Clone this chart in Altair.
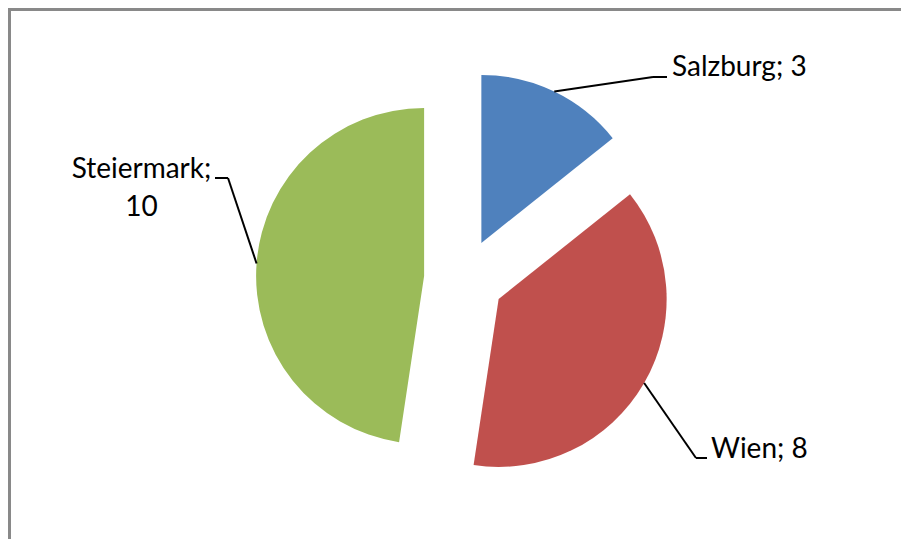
import altair as alt
import pandas as pd

# ---- data ----
regions = ["Salzburg", "Wien", "Steiermark"]
values = [3, 8, 10]
label_texts = ["Salzburg; 3", "Wien; 8", "Steiermark;\n10"]
colors = ["#4F81BD", "#C0504D", "#9BBB59"]

# ---- layout (pixels inside the plot area) ----
W, H = 893, 531
CX, CY = 456, 271      # pie centre
R = 168                # pie radius
EXPLODE = 40           # explosion distance of every slice
label_x = [664, 703, 133.5]
label_y = [68, 450, 170]
label_align = ["left", "left", "center"]
elbow_x = [645, 688, 220]
elbow_y = [69, 450, 170]
end_x = [659, 699, 207]
end_y = [69, 450, 170]

df = pd.DataFrame({
    "region": regions,
    "value": values,
    "order": list(range(len(regions))),
    "label": label_texts,
})
layout = pd.DataFrame({
    "region": regions,
    "tx": label_x, "ty": label_y, "align": label_align,
    "bx": elbow_x, "by": elbow_y, "ex": end_x, "ey": end_y,
})
data = df.merge(layout, on="region")

base = (
    alt.Chart(data)
    .transform_joinaggregate(total="sum(value)")
    .transform_window(cum="sum(value)", sort=[alt.SortField("order")], frame=[None, 0])
    .transform_calculate(t0="2*PI*(datum.cum-datum.value)/datum.total")
    .transform_calculate(t1="2*PI*datum.cum/datum.total")
    .transform_calculate(mid="(datum.t0+datum.t1)/2")
    .transform_calculate(px=f"{CX}+{EXPLODE}*sin(datum.mid)")
    .transform_calculate(py=f"{CY}-{EXPLODE}*cos(datum.mid)")
    .transform_calculate(lx=f"datum.px+{R}*sin(datum.mid)")
    .transform_calculate(ly=f"datum.py-{R}*cos(datum.mid)")
)

slices = base.mark_arc(radius=R, stroke=None).encode(
    x=alt.X("px:Q", scale=None, axis=None),
    y=alt.Y("py:Q", scale=None, axis=None),
    theta=alt.Theta("t0:Q", scale=None, stack=None),
    theta2=alt.Theta2("t1:Q"),
    color=alt.Color("region:N", scale=alt.Scale(domain=regions, range=colors), legend=None),
)

leader1 = base.mark_rule(color="black", strokeWidth=2).encode(
    x=alt.X("lx:Q", scale=None, axis=None),
    y=alt.Y("ly:Q", scale=None, axis=None),
    x2=alt.X2("bx:Q"),
    y2=alt.Y2("by:Q"),
)
leader2 = base.mark_rule(color="black", strokeWidth=2).encode(
    x=alt.X("bx:Q", scale=None, axis=None),
    y=alt.Y("by:Q", scale=None, axis=None),
    x2=alt.X2("ex:Q"),
    y2=alt.Y2("ey:Q"),
)

text_left = base.transform_filter("datum.align == 'left'").mark_text(
    font="Lato", fontSize=28, align="left", baseline="alphabetic", color="black",
    lineBreak="\n", lineHeight=38,
).encode(
    x=alt.X("tx:Q", scale=None, axis=None),
    y=alt.Y("ty:Q", scale=None, axis=None),
    text="label:N",
)
text_center = base.transform_filter("datum.align == 'center'").mark_text(
    font="Lato", fontSize=28, align="center", baseline="alphabetic", color="black",
    lineBreak="\n", lineHeight=38,
).encode(
    x=alt.X("tx:Q", scale=None, axis=None),
    y=alt.Y("ty:Q", scale=None, axis=None),
    text="label:N",
)

frame_df = pd.DataFrame({"k": [0]})
frame_left = alt.Chart(frame_df).mark_rule(color="#898989", strokeWidth=3).encode(
    x=alt.value(1.5), y=alt.value(0), y2=alt.value(H)
)
frame_top = alt.Chart(frame_df).mark_rule(color="#898989", strokeWidth=3).encode(
    y=alt.value(1.5), x=alt.value(0), x2=alt.value(W)
)

chart = (
    alt.layer(frame_left, frame_top, slices, leader1, leader2, text_left, text_center)
    .properties(width=W, height=H, padding=0, autosize=alt.AutoSizeParams(type="none"),
                background="white")
    .configure_view(stroke=None)
)

chart.save("out.html", embed_options={"renderer": "svg", "actions": False})
